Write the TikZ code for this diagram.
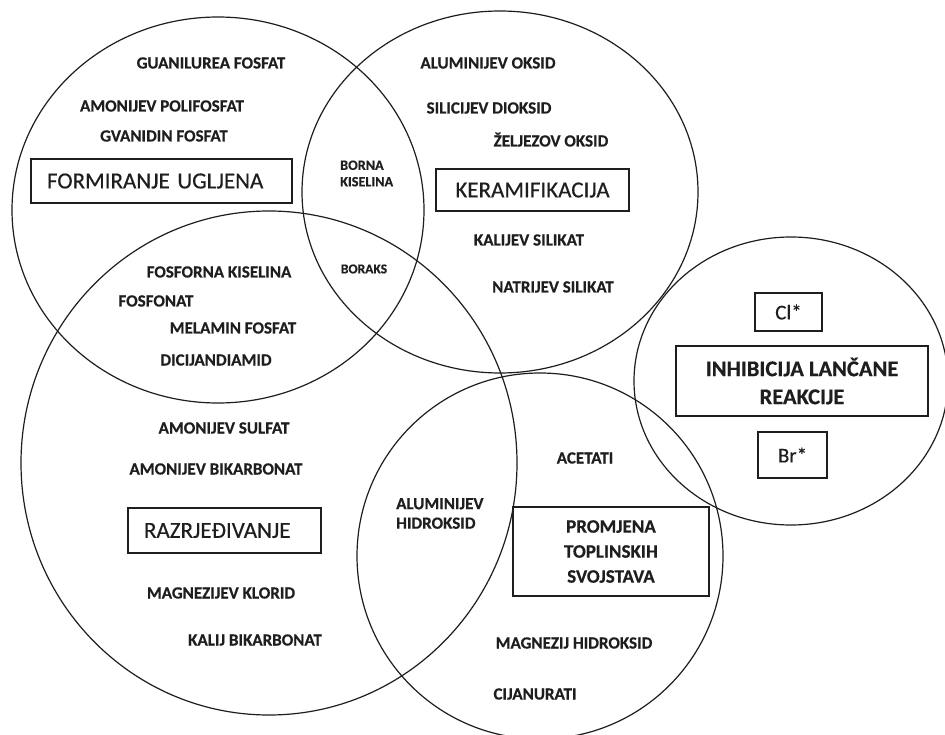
\documentclass[tikz,border=0pt]{standalone}
\usepackage{fontspec}
\setmainfont{Carlito}
\newfontfamily\heavyfont{Carlito}[UprightFont={* Bold}, FakeBold=0.5]
\newfontfamily\titlefont{Carlito}[FakeBold=0.4]
\definecolor{ink}{HTML}{1E1E1E}
\tikzset{
  ring/.style={draw=ink, line width=1.2pt},
  lbl/.style={font=\heavyfont\fontsize{17}{18}\selectfont, text=ink, inner sep=0pt, text height=11pt, text depth=0pt},
  tiny/.style={font=\heavyfont\fontsize{14.2}{16.5}\selectfont, text=ink, inner sep=0pt, align=left},
  titlebox/.style={draw=ink, line width=1.3pt, text=ink, inner ysep=0pt, font=\titlefont\fontsize{23}{26}\selectfont},
  boldbox/.style={draw=ink, line width=1.3pt, text=ink, inner sep=0pt, align=center},
  radbox/.style={draw=ink, line width=1.3pt, text=ink, inner sep=0pt, font=\titlefont\fontsize{21}{24}\selectfont},
}
\begin{document}
\begin{tikzpicture}[x=1pt, y=-1pt]
\useasboundingbox (0,0) rectangle (945,735);
\fill[white] (0,0) rectangle (945,735);
% circles
\draw[ring] (218,210) ellipse [x radius=206pt, y radius=193pt];
\draw[ring] (500,192) ellipse [x radius=198pt, y radius=181pt];
\draw[ring] (269,463) ellipse [x radius=248pt, y radius=252pt];
\draw[ring] (540,556) ellipse [x radius=183pt, y radius=183pt];
\draw[ring] (791,381) ellipse [x radius=157pt, y radius=144pt];
% title boxes
\node[titlebox, minimum height=44pt, inner xsep=16pt, text width=229pt, align=left] (tUg) at (161.5,181) {FORMIRANJE UGLJENA};
\node[titlebox, minimum width=193pt, minimum height=42pt] (tKer) at (532.5,190) {KERAMIFIKACIJA};
\node[titlebox, minimum height=45pt, inner xsep=16pt, text width=161pt, align=left] (tRaz) at (224.5,530.5) {RAZRJEĐIVANJE};
\node[boldbox, minimum width=196pt, minimum height=89pt, font=\heavyfont\fontsize{19}{25}\selectfont] (tTop) at (611,551.5) {PROMJENA\\TOPLINSKIH\\SVOJSTAVA};
\node[boldbox, minimum width=252pt, minimum height=70pt, font=\heavyfont\fontsize{22.5}{28}\selectfont] (tInh) at (802,381) {INHIBICIJA LANČANE\\REAKCIJE};
\node[radbox, minimum width=67pt, minimum height=38pt] (cl) at (788.5,312) {Cl*};
\node[radbox, minimum width=69pt, minimum height=46pt] (br) at (792.5,455) {Br*};
% labels circle 1
\node[lbl] (l1) at (211,63) {GUANILUREA FOSFAT};
\node[lbl] (l2) at (162,106) {AMONIJEV POLIFOSFAT};
\node[lbl] (l3) at (164,136) {GVANIDIN FOSFAT};
\node[tiny, anchor=west] (l4) at (340,173.5) {BORNA\\KISELINA};
\node[tiny, font=\heavyfont\fontsize{13.5}{16}\selectfont, text height=8.7pt, text depth=0pt] (l5) at (364,269) {BORAKS};
\node[lbl] (l6) at (219,272) {FOSFORNA KISELINA};
\node[lbl] (l7) at (156,301) {FOSFONAT};
\node[lbl] (l8) at (233,328) {MELAMIN FOSFAT};
\node[lbl] (l9) at (216,360) {DICIJANDIAMID};
% labels circle 2
\node[lbl] (k1) at (488,63) {ALUMINIJEV OKSID};
\node[lbl] (k2) at (489,108) {SILICIJEV DIOKSID};
\node[lbl] (k3) at (551,141) {ŽELJEZOV OKSID};
\node[lbl] (k4) at (529,240) {KALIJEV SILIKAT};
\node[lbl] (k5) at (553,287) {NATRIJEV SILIKAT};
% labels circle 3
\node[lbl] (r1) at (224,428) {AMONIJEV SULFAT};
\node[lbl] (r2) at (216,469) {AMONIJEV BIKARBONAT};
\node[lbl] (r3) at (221,593) {MAGNEZIJEV KLORID};
\node[lbl] (r4) at (255,640) {KALIJ BIKARBONAT};
% labels circle 4
\node[font=\heavyfont\fontsize{17}{19.5}\selectfont, text=ink, inner sep=0pt, align=left, anchor=west] (p1) at (396,513.5) {ALUMINIJEV\\HIDROKSID};
\node[lbl] (p2) at (585,458) {ACETATI};
\node[lbl] (p3) at (574,643) {MAGNEZIJ HIDROKSID};
\node[lbl] (p4) at (535,694) {CIJANURATI};
\end{tikzpicture}
\end{document}
